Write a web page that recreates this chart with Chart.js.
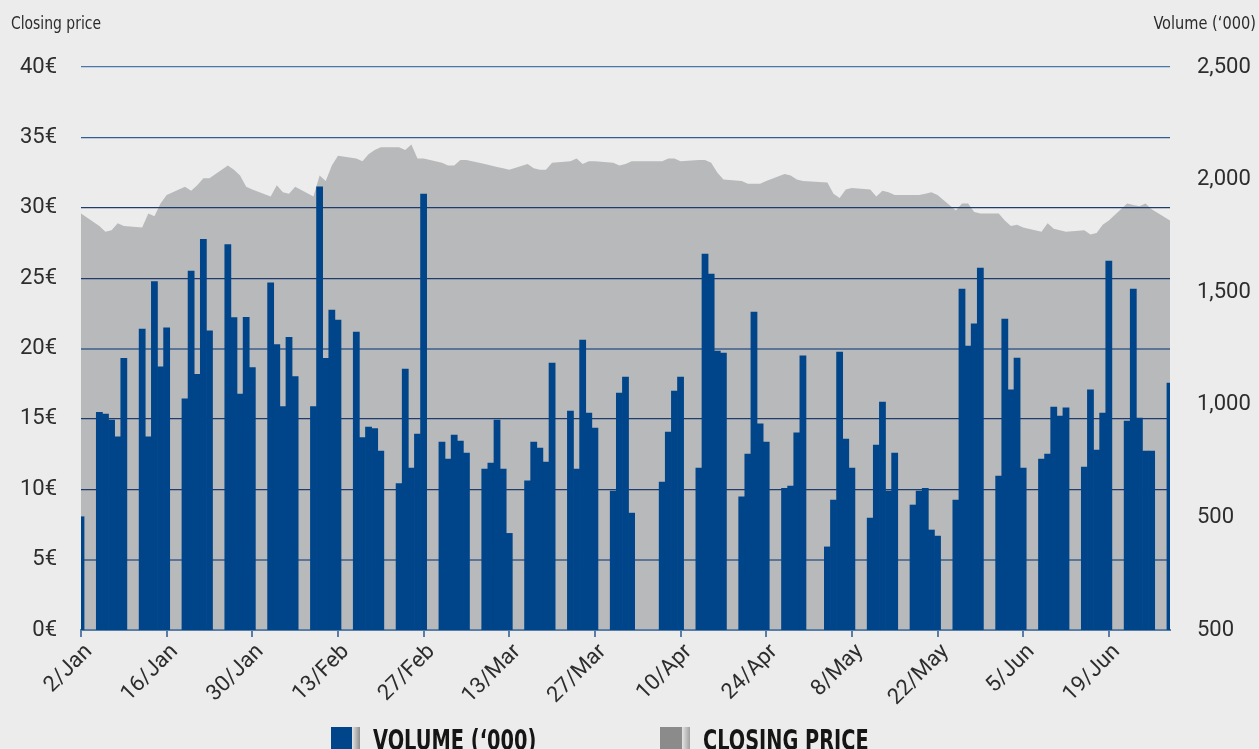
<!DOCTYPE html>
<html>
<head>
<meta charset="utf-8">
<script src="https://cdn.jsdelivr.net/npm/chart.js@4.4.1/dist/chart.umd.min.js"></script>
<style>
  body { margin: 0; background: #ebeceb; }
  #wrap { position: relative; width: 1259px; height: 749px; overflow: hidden; background: #ebeceb; }
  #chart { position: absolute; left: 0; top: 0; }
  .axis-title {
    position: absolute; top: 14px; font-family: 'Liberation Sans Narrow', 'DejaVu Sans Condensed', sans-serif;
    font-size: 18px; color: #2b2b2b; line-height: 1; white-space: nowrap;
  }
  .legend { position: absolute; top: 727px; display: flex; align-items: flex-start; }
  .legend .box { width: 29px; height: 22px; flex: none; }
  .legend .label {
    display: inline-block; white-space: nowrap; transform-origin: left top;
    font-family: 'Liberation Sans Narrow', 'DejaVu Sans Condensed', sans-serif; font-weight: bold;
    font-size: 28px; line-height: 1; color: #151515; margin-top: 0px;
  }
</style>
</head>
<body>
<div id="wrap">
  <canvas id="chart" width="1259" height="749"></canvas>
  <div class="axis-title" style="left:11px;transform:scaleX(0.86);transform-origin:left top">Closing price</div>
  <div class="axis-title" style="right:3px;transform:scaleX(0.9);transform-origin:right top">Volume (‘000)</div>
  <div class="legend" style="left:331px">
    <span class="box" style="background:linear-gradient(to right,#004589 0 21px,#e4e4e4 21px,#8d8d8d 29px)"></span>
    <span class="label" style="margin-left:13px;transform:scaleX(0.77)">VOLUME (‘000)</span>
  </div>
  <div class="legend" style="left:660px">
    <span class="box" style="width:30px;background:linear-gradient(to right,#8b8b8c 0 22px,#e4e4e4 22px,#a0a0a0 30px)"></span>
    <span class="label" style="margin-left:13px;transform:scaleX(0.767)">CLOSING PRICE</span>
  </div>
</div>
<script>
// one entry per calendar day from 2/Jan, null = weekend / market closed
const volume = [
  503, null, null,
  967, 959, 932, 858, 1206, null, null,
  1336, 858, 1547, 1169, 1342, null, null,
  1026, 1594, 1135, 1735, 1329, null, null,
  1712, 1387, 1048, 1388, 1165, null, null,
  1542, 1267, 992, 1300, 1125, null, null,
  992, 1968, 1206, 1421, 1376, null, null,
  1323, 854, 901, 894, 795, null, null,
  650, 1159, 719, 870, 1936, null, null,
  835, 759, 866, 839, 786, null, null,
  715, 741, 932, 715, 429, null, null,
  662, 835, 808, 746, 1185, null, null,
  972, 715, 1287, 963, 897, null, null,
  617, 1052, 1123, 519, null, null, null,
  null, 657, 879, 1061, 1123, null, null,
  719, 1669, 1581, 1239, 1230, null, null,
  591, 781, 1412, 915, 835, null, null,
  629, 639, 875, 1217, null, null, null,
  369, 577, 1234, 848, 719, null, null,
  497, 821, 1012, 617, 786, null, null,
  555, 617, 629, 444, 417, null, null,
  577, 1514, 1261, 1359, 1607, null, null,
  684, 1381, 1066, 1208, 719, null, null,
  759, 781, 990, 950, 986, null, null,
  724, 1066, 799, 963, 1638, null, null,
  928, 1514, 941, 795, 795, null, null,
  1097
];

const closingPrice = [
  29.6, null, null,
  28.7, 28.3, 28.4, 28.9, 28.7, null, null,
  28.6, 29.6, 29.4, 30.3, 30.9, null, null,
  31.5, 31.2, 31.6, 32.1, 32.1, null, null,
  33.0, 32.7, 32.3, 31.5, 31.3, null, null,
  30.8, 31.6, 31.1, 31.0, 31.5, null, null,
  30.8, 32.3, 31.9, 33.0, 33.7, null, null,
  33.5, 33.3, 33.8, 34.1, 34.3, null, null,
  34.3, 34.1, 34.5, 33.5, 33.5, null, null,
  33.2, 33.0, 33.0, 33.4, 33.4, null, null,
  33.1, 33.0, 32.9, 32.8, 32.7, null, null,
  33.1, 32.8, 32.7, 32.7, 33.2, null, null,
  33.3, 33.5, 33.1, 33.3, 33.3, null, null,
  33.2, 33.0, 33.1, 33.3, null, null, null,
  null, 33.3, 33.5, 33.5, 33.3, null, null,
  33.4, 33.4, 33.2, 32.5, 32.0, null, null,
  31.9, 31.7, 31.7, 31.7, 31.9, null, null,
  32.4, 32.3, 32.0, 31.9, null, null, null,
  31.8, 31.0, 30.7, 31.3, 31.4, null, null,
  31.3, 30.8, 31.2, 31.1, 30.9, null, null,
  30.9, 30.9, 31.0, 31.1, 30.9, null, null,
  29.8, 30.3, 30.3, 29.7, 29.6, null, null,
  29.6, 29.1, 28.7, 28.8, 28.6, null, null,
  28.3, 28.9, 28.5, 28.4, 28.3, null, null,
  28.4, 28.1, 28.2, 28.8, 29.1, null, null,
  30.3, 30.2, 30.1, 30.3, 29.9, null, null,
  29.1
];

const dateTicks = ['2/Jan', '16/Jan', '30/Jan', '13/Feb', '27/Feb', '13/Mar', '27/Mar',
  '10/Apr', '24/Apr', '8/May', '22/May', '5/Jun', '19/Jun'];
const priceTicks = ['0€', '5€', '10€', '15€', '20€', '25€', '30€', '35€', '40€'];
const volumeTicks = ['500', '500', '1,000', '1,500', '2,000', '2,500'];

const days = volume.map((v, i) => String(i));
const tickFont = { family: 'Roboto', size: 22, weight: '400' };

new Chart('chart', {
  data: {
    labels: days,
    datasets: [{
      type: 'bar',
      label: "Volume ('000)",
      data: volume,
      yAxisID: 'yVol',
      backgroundColor: '#004589',
      borderWidth: 0,
      barPercentage: 1,
      categoryPercentage: 1,
      order: 1
    }, {
      type: 'line',
      label: 'Closing price',
      data: closingPrice,
      yAxisID: 'yPrice',
      fill: 'origin',
      backgroundColor: '#b8b9bb',
      borderColor: 'rgba(0,0,0,0)',
      borderWidth: 0,
      pointRadius: 0,
      tension: 0,
      spanGaps: true,
      order: 2
    }]
  },
  options: {
    responsive: false,
    animation: false,
    events: [],
    layout: { padding: { top: 67, left: 0, right: 0, bottom: 0 } },
    plugins: {
      legend: { display: false },
      tooltip: { enabled: false },
      filler: { drawTime: 'beforeDraw' }
    },
    scales: {
      x: {
        type: 'category',
        offset: false,
        afterFit: (scale) => { scale.height = 119; },
        border: { color: '#5a7da6', width: 2 },
        grid: {
          offset: false,
          drawOnChartArea: false,
          drawTicks: true,
          tickLength: 7,
          lineWidth: 2,
          color: (ctx) => ctx.index % 14 === 0 ? '#5a7da6' : 'rgba(0,0,0,0)'
        },
        ticks: {
          autoSkip: false,
          minRotation: 45,
          maxRotation: 45,
          padding: 2,
          labelOffset: 8,
          color: '#2d2d2d',
          font: tickFont,
          callback: (val, i) => i % 14 === 0 ? dateTicks[i / 14] : ''
        }
      },
      yPrice: {
        position: 'left',
        min: 0,
        max: 40,
        afterFit: (scale) => { scale.width = 81; },
        border: { display: false },
        grid: {
          drawTicks: false,
          color: (ctx) => {
            let v = ctx.tick ? ctx.tick.value : -1;
            if (v === 0) return 'rgba(0,0,0,0)';
            if (v === 40) return '#4a78ad';
            if (v === 35) return '#2f5d96';
            if (v === 20 || v === 5) return '#5a7595';
            return '#1e3c6c';
          },
          lineWidth: (ctx) => {
            let v = ctx.tick ? ctx.tick.value : -1;
            return (v === 20 || v === 5) ? 2 : 1.2;
          }
        },
        ticks: {
          stepSize: 5,
          padding: 24,
          color: '#2d2d2d',
          font: tickFont,
          callback: (val, i) => priceTicks[i]
        }
      },
      yVol: {
        position: 'right',
        min: 0,
        max: 2500,
        afterFit: (scale) => { scale.width = 89; },
        border: { display: false },
        grid: { display: false, drawTicks: false },
        ticks: {
          stepSize: 500,
          padding: 27,
          color: '#2d2d2d',
          font: tickFont,
          callback: (val, i) => volumeTicks[i]
        }
      }
    }
  }
});
</script>
</body>
</html>
